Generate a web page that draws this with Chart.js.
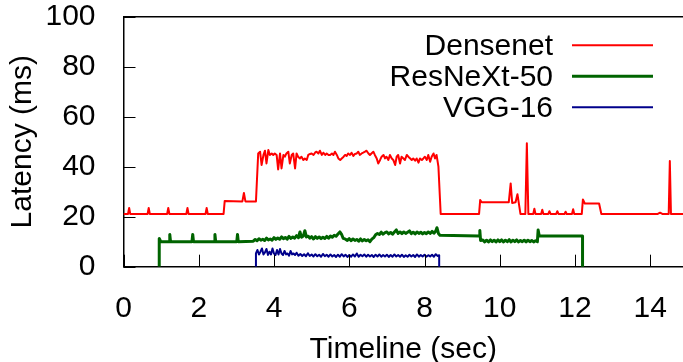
<!DOCTYPE html>
<html>
<head>
<meta charset="utf-8">
<script src="https://cdn.jsdelivr.net/npm/chart.js@4/dist/chart.umd.min.js"></script>
<style>
  html, body { margin: 0; padding: 0; background: #fff; }
  #wrap { width: 683px; height: 362px; }
</style>
</head>
<body>
<div id="wrap"><canvas id="latencyChart" width="683" height="362"></canvas></div>
<script>
// --- Data ---
const xTicks = [0, 2, 4, 6, 8, 10, 12, 14];
const yTicks = [0, 20, 40, 60, 80, 100];
const seriesNames = ['Densenet', 'ResNeXt-50', 'VGG-16'];

const densenetTime = [
  0, 0.12, 0.15, 0.18, 0.64, 0.67, 0.70, 1.16, 1.19, 1.22, 1.67, 1.70, 1.73, 2.18, 2.21, 2.24,
  2.66, 2.69, 3.16, 3.20, 3.24, 3.52,
  3.58, 3.63, 3.67, 3.72, 3.76, 3.80, 3.85, 3.89, 3.94, 3.98, 4.02, 4.07, 4.11, 4.16, 4.20, 4.25,
  4.29, 4.33, 4.38, 4.42, 4.47, 4.51, 4.56, 4.60, 4.64, 4.69, 4.73, 4.78, 4.82, 4.87, 4.91, 4.96,
  5.00, 5.05, 5.09, 5.13, 5.18, 5.22, 5.27, 5.31, 5.36, 5.40, 5.45, 5.49, 5.54, 5.58, 5.62, 5.67,
  5.71, 5.76, 5.80, 5.85,
  5.89, 5.93, 5.97, 6.02, 6.06, 6.11, 6.15, 6.20, 6.24, 6.28, 6.33, 6.37, 6.42, 6.46, 6.51, 6.55,
  6.59, 6.64, 6.68, 6.73, 6.77, 6.82, 6.86, 6.91, 6.95, 6.99, 7.04, 7.08, 7.13, 7.17, 7.22, 7.26,
  7.30, 7.35, 7.39, 7.44, 7.48, 7.53, 7.57, 7.62, 7.66, 7.70, 7.75, 7.79, 7.84, 7.88, 7.93, 7.97,
  8.01, 8.06, 8.10, 8.15, 8.19, 8.24, 8.28, 8.32, 8.37,
  8.43, 9.45, 9.48, 9.52, 10.24, 10.29, 10.33, 10.42, 10.47, 10.51, 10.55, 10.68, 10.72, 10.76,
  10.89, 10.92, 10.95, 11.10, 11.13, 11.16, 11.29, 11.32, 11.35, 11.50, 11.53, 11.56, 11.72, 11.75,
  11.78, 11.92, 11.95, 11.98, 12.18, 12.21, 12.26, 12.64, 12.70, 14.20, 14.26, 14.32, 14.49, 14.52,
  14.55, 14.9
];
const densenetLatency = [
  21.1, 21.1, 23.5, 21.1, 21.1, 23.5, 21.1, 21.1, 23.5, 21.1, 21.1, 23.5, 21.1, 21.1, 23.5, 21.1,
  21.1, 26.3, 26.1, 29.5, 26.1, 26.1,
  45.3, 46.0, 40.7, 44.7, 46.4, 41.3, 46.7, 44.7, 45.3, 44.7, 45.3, 44.7, 38.9, 45.3, 39.3, 44.7,
  44.0, 45.3, 46.0, 41.3, 44.7, 45.3, 39.3, 45.3, 44.0, 43.3, 44.0, 42.7, 43.3, 42.7, 44.7, 45.1,
  45.3, 44.7, 45.6, 46.0, 45.3, 46.4, 44.7, 45.6, 44.7, 45.3, 44.7, 44.7, 45.3, 44.7, 46.0, 44.7,
  43.3, 42.7, 43.3, 44.0,
  44.7, 44.3, 45.3, 44.7, 45.6, 44.3, 45.1, 45.3, 46.0, 44.7, 45.3, 45.6, 46.0, 46.4, 45.3, 44.7,
  45.3, 46.0, 44.7, 43.3, 41.3, 42.7, 44.0, 44.7, 43.3, 44.0, 42.7, 44.7, 43.3, 42.7, 40.7, 44.0,
  44.7, 41.3, 44.0, 43.3, 42.7, 44.7, 44.0, 43.3, 42.7, 43.3, 42.4, 43.3, 41.6, 43.3, 42.7, 43.3,
  44.0, 42.7, 44.7, 42.0, 44.0, 45.3, 43.3, 44.7, 40.0,
  21.1, 21.1, 26.7, 25.8, 25.8, 33.3, 25.5, 25.8, 29.0, 25.0, 21.1, 21.1, 49.4, 21.1,
  21.1, 23.2, 21.1, 21.1, 22.8, 21.1, 21.1, 22.2, 21.1, 21.1, 22.2, 21.1, 21.1, 22.0,
  21.1, 21.1, 23.0, 21.1, 21.1, 26.9, 25.3, 25.3, 21.1, 21.1, 21.6, 21.1, 21.1, 42.3,
  21.1, 21.1
];

const resnextTime = [
  0.95, 0.95, 0.99, 1.21, 1.23, 1.25, 1.82, 1.84, 1.86, 2.41, 2.43, 2.45, 3.01, 3.03, 3.05, 3.45,
  3.50, 3.55, 3.60, 3.65, 3.70, 3.75, 3.80, 3.85, 3.90, 3.95, 4.00, 4.05, 4.10, 4.15, 4.20, 4.25,
  4.30, 4.35, 4.40, 4.45, 4.50, 4.55, 4.60, 4.65, 4.69, 4.73, 4.78, 4.82, 4.86, 4.91, 4.95, 5.00,
  5.05, 5.10, 5.15, 5.20, 5.25, 5.30, 5.35, 5.40, 5.45, 5.50, 5.55, 5.60, 5.65, 5.70, 5.75, 5.80,
  5.84, 5.90, 5.95, 6.00, 6.05, 6.10, 6.15, 6.20, 6.25, 6.30, 6.35, 6.40, 6.45, 6.50, 6.55, 6.60,
  6.65, 6.70, 6.75, 6.80, 6.85, 6.90, 6.95, 7.00, 7.05, 7.10, 7.15, 7.20, 7.25, 7.30, 7.35, 7.40,
  7.45, 7.50, 7.55, 7.60, 7.65, 7.70, 7.75, 7.80, 7.85, 7.90, 7.95, 8.00, 8.05, 8.10, 8.15, 8.20,
  8.25, 8.30, 8.33, 8.37, 8.41, 9.45, 9.47, 9.49,
  9.55, 9.60, 9.65, 9.70, 9.75, 9.80, 9.85, 9.90, 9.95, 10.00, 10.05, 10.10, 10.15, 10.20, 10.25,
  10.30, 10.35, 10.40, 10.45, 10.50, 10.55, 10.60, 10.65, 10.70, 10.75, 10.80, 10.85, 10.90, 10.95,
  11.00, 11.02, 11.05, 12.20, 12.20
];
const resnextLatency = [
  0, 11.3, 10.0, 10.0, 12.9, 10.0, 10.0, 12.9, 10.0, 10.0, 12.9, 10.0, 10.0, 12.9, 10.0, 10.2,
  10.9, 10.4, 11.2, 10.6, 11.0, 10.5, 11.4, 10.7, 11.1, 10.6, 11.6, 10.9, 11.5, 11.0, 11.9, 11.2,
  11.7, 11.0, 12.1, 11.3, 11.9, 11.4, 12.4, 11.6, 13.9, 11.8, 12.3, 14.4, 11.9, 12.2, 11.4, 12.0,
  11.1, 12.0, 11.3, 11.9, 11.2, 11.8, 11.3, 12.1, 11.4, 12.3, 11.8, 12.6, 12.2, 13.1, 13.9, 12.8,
  11.3, 11.0, 10.5, 11.2, 10.4, 11.1, 10.5, 10.9, 10.2, 11.1, 10.3, 10.9, 10.4, 10.8, 10.0, 11.0,
  11.6, 12.8, 13.3, 12.9, 13.8, 13.0, 13.6, 13.9, 13.1, 13.7, 13.0, 13.9, 14.7, 13.3, 13.9, 13.2,
  13.9, 13.3, 13.8, 14.3, 13.2, 13.8, 13.1, 13.9, 13.3, 13.8, 13.1, 13.7, 13.2, 13.9, 13.3, 14.1,
  13.4, 14.3, 15.6, 13.3, 12.6, 12.3, 14.5, 10.5,
  10.7, 9.9, 10.6, 9.9, 10.7, 10.0, 10.6, 9.9, 10.7, 10.0, 10.7, 9.9, 10.6, 10.0, 10.8,
  9.9, 10.6, 10.0, 10.7, 9.9, 10.5, 10.0, 10.6, 9.9, 10.6, 10.0, 10.5, 9.9, 10.4,
  10.0, 14.7, 12.3, 12.3, 0
];

const vggTime = [
  3.52, 3.52, 3.56, 3.60, 3.64, 3.68, 3.72, 3.76, 3.80, 3.84, 3.88, 3.92, 3.96, 4.00, 4.04, 4.08,
  4.12, 4.16, 4.20, 4.24, 4.28, 4.32, 4.36, 4.40, 4.44, 4.48, 4.52, 4.56, 4.60, 4.65, 4.70, 4.75,
  4.80, 4.85, 4.90, 4.95, 5.00, 5.05, 5.10, 5.15, 5.20, 5.25, 5.30, 5.35, 5.40, 5.45, 5.50, 5.55,
  5.60, 5.65, 5.70, 5.75, 5.80, 5.85, 5.90, 5.95, 6.00, 6.05, 6.10, 6.15, 6.20, 6.25, 6.30, 6.35,
  6.40, 6.45, 6.50, 6.55, 6.60, 6.65, 6.70, 6.75, 6.80, 6.85, 6.90, 6.95, 7.00, 7.05, 7.10, 7.15,
  7.20, 7.25, 7.30, 7.35, 7.40, 7.45, 7.50, 7.55, 7.60, 7.65, 7.70, 7.75, 7.80, 7.85, 7.90, 7.95,
  8.00, 8.05, 8.10, 8.15, 8.20, 8.25, 8.30, 8.35, 8.39, 8.39
];
const vggLatency = [
  0, 5.3, 6.7, 4.9, 6.0, 7.3, 4.9, 5.7, 7.1, 4.7, 6.0, 4.9, 7.3, 5.3, 4.7, 6.7,
  4.9, 7.1, 5.3, 4.7, 6.3, 4.9, 5.3, 4.4, 6.3, 4.9, 5.3, 4.7, 5.6, 4.4, 5.1, 4.3,
  5.0, 4.2, 5.4, 4.3, 4.9, 4.1, 5.0, 4.2, 4.8, 4.0, 5.1, 4.2, 4.8, 4.0, 4.9, 4.1,
  4.7, 3.9, 4.8, 4.0, 5.0, 4.1, 4.8, 3.9, 4.7, 4.0, 4.9, 4.1, 5.3, 4.0, 4.8, 4.2,
  4.9, 4.0, 4.8, 4.1, 4.7, 3.9, 4.8, 4.1, 4.9, 4.0, 4.7, 4.1, 4.8, 3.9, 4.7, 4.0,
  4.9, 4.1, 4.7, 4.0, 4.8, 3.9, 4.6, 4.0, 4.8, 4.1, 4.7, 3.9, 4.9, 4.0, 4.7, 4.1,
  4.8, 4.0, 4.6, 4.1, 4.8, 4.0, 5.0, 4.3, 4.6, 0
];

// --- Helpers ---
const FONT = "'Liberation Sans', Arial, Helvetica, sans-serif";

function toPoints(times, values) {
  return times.map((t, i) => ({ x: t, y: values[i] }));
}

// gnuplot-style frame: inward ticks + top border
const frameDecor = {
  id: 'frameDecor',
  afterDraw(chart) {
    const { ctx, chartArea, scales } = chart;
    const tick = 12;
    ctx.save();
    ctx.strokeStyle = '#000';
    ctx.lineWidth = 1;
    ctx.beginPath();
    xTicks.forEach(v => {
      const px = Math.round(scales.x.getPixelForValue(v)) + 0.5;
      ctx.moveTo(px, chartArea.bottom);
      ctx.lineTo(px, chartArea.bottom - tick);
    });
    yTicks.forEach(v => {
      const py = Math.round(scales.y.getPixelForValue(v)) + 0.5;
      ctx.moveTo(chartArea.left, py);
      ctx.lineTo(chartArea.left + tick, py);
    });
    ctx.stroke();
    ctx.lineWidth = 1.5;
    ctx.beginPath();
    ctx.moveTo(chartArea.left, chartArea.top);
    ctx.lineTo(chartArea.right, chartArea.top);
    ctx.stroke();
    ctx.restore();
  }
};

// legend: right-aligned names with a line sample after each
const lineLegend = {
  id: 'lineLegend',
  afterDraw(chart) {
    const { ctx, chartArea } = chart;
    ctx.save();
    ctx.font = '30px ' + FONT;
    ctx.textAlign = 'right';
    ctx.textBaseline = 'middle';
    chart.data.datasets.forEach((ds, i) => {
      const y = chartArea.top + 28.5 + i * 31;
      ctx.fillStyle = '#000';
      ctx.fillText(ds.label, chartArea.right - 130, y + 1.5);
      ctx.strokeStyle = ds.borderColor;
      ctx.lineWidth = ds.borderWidth;
      ctx.beginPath();
      ctx.moveTo(chartArea.right - 111, y);
      ctx.lineTo(chartArea.right - 30, y);
      ctx.stroke();
    });
    ctx.restore();
  }
};

// fixed axis boxes, no extra padding for overhanging labels
function fixX(s) {
  s.height = 95.3;
  s.paddingLeft = 0;
  s.paddingRight = 0;
}
function fixY(s) {
  s.width = 123.5;
  s.paddingTop = 0;
  s.paddingBottom = 0;
}

// --- Chart ---
function initChart() {
  const canvas = document.getElementById('latencyChart');
  if (!canvas) return;

  new Chart(canvas.getContext('2d'), {
    type: 'line',
    data: {
      datasets: [
        {
          label: seriesNames[0],
          data: toPoints(densenetTime, densenetLatency),
          borderColor: '#ff0000',
          borderWidth: 2
        },
        {
          label: seriesNames[1],
          data: toPoints(resnextTime, resnextLatency),
          borderColor: '#006400',
          borderWidth: 3
        },
        {
          label: seriesNames[2],
          data: toPoints(vggTime, vggLatency),
          borderColor: '#00008b',
          borderWidth: 2
        }
      ]
    },
    options: {
      responsive: false,
      animation: false,
      devicePixelRatio: 1,
      layout: { padding: { top: 16.7, right: 0, left: 0, bottom: 0 } },
      elements: {
        point: { radius: 0 },
        line: { tension: 0, fill: false, borderJoinStyle: 'round' }
      },
      plugins: {
        legend: { display: false },
        tooltip: { enabled: false }
      },
      scales: {
        x: {
          type: 'linear',
          min: 0,
          max: 14.87,
          afterFit: fixX,
          afterBuildTicks: s => { s.ticks = xTicks.map(v => ({ value: v })); },
          ticks: {
            color: '#000',
            padding: 16,
            maxRotation: 0,
            autoSkip: false,
            font: { family: FONT, size: 30 }
          },
          grid: { display: false },
          border: { color: '#000', width: 1.5 },
          title: {
            display: true,
            text: 'Timeline (sec)',
            color: '#000',
            padding: 0,
            font: { family: FONT, size: 30, lineHeight: 0.83 }
          }
        },
        y: {
          min: 0,
          max: 100,
          afterFit: fixY,
          afterBuildTicks: s => { s.ticks = yTicks.map(v => ({ value: v })); },
          ticks: {
            color: '#000',
            padding: 20,
            font: { family: FONT, size: 30 }
          },
          grid: { display: false },
          border: { color: '#000', width: 1.5 },
          title: {
            display: true,
            text: 'Latency (ms)',
            color: '#000',
            padding: { top: 8, bottom: 0 },
            font: { family: FONT, size: 30, lineHeight: 1 }
          }
        }
      }
    },
    plugins: [frameDecor, lineLegend]
  });
}

document.addEventListener('DOMContentLoaded', initChart);
</script>
</body>
</html>
